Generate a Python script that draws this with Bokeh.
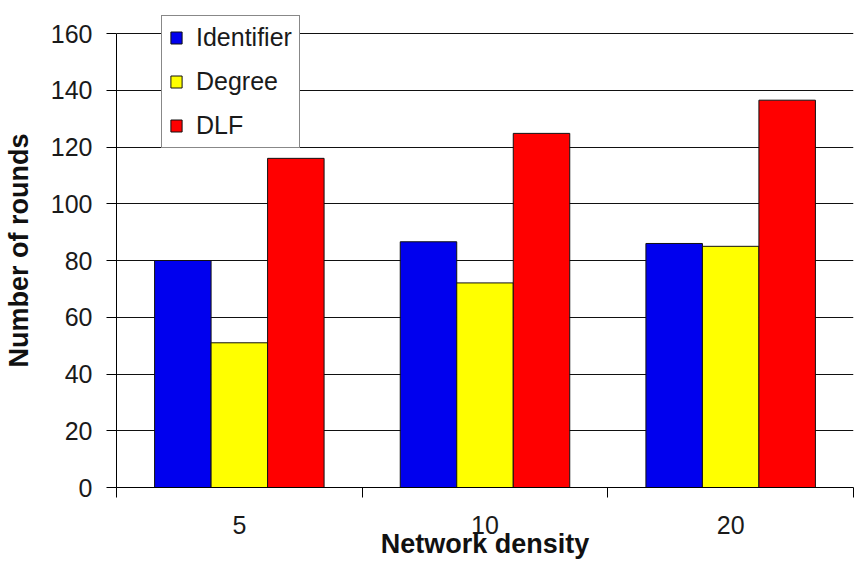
from bokeh.plotting import figure
from bokeh.models import ColumnDataSource, FixedTicker, Legend, LegendItem, Range1d
from bokeh.transform import dodge
from bokeh.embed import file_html
from bokeh.resources import INLINE

categories = ["5", "10", "20"]
identifier = [80, 86.6, 86]
degree = [51, 72.1, 85]
dlf = [116, 124.8, 136.5]
y_ticks = [0, 20, 40, 60, 80, 100, 120, 140, 160]

xpos = [i + 0.5 for i in range(len(categories))]
src = ColumnDataSource(dict(x=xpos, identifier=identifier, degree=degree, dlf=dlf))

p = figure(width=854, height=565, output_backend="svg", toolbar_location=None,
           x_range=Range1d(0, len(categories)), y_range=Range1d(0, 167.05),
           min_border_left=115, min_border_right=1, min_border_top=13, min_border_bottom=78)
p.outline_line_color = None
p.background_fill_color = "white"
p.border_fill_color = "white"

bw = 0.23
r1 = p.vbar(x=dodge("x", -bw, range=p.x_range), top="identifier", width=bw, source=src,
            fill_color="#0000EE", line_color="#111111", line_width=1)
r2 = p.vbar(x=dodge("x", 0, range=p.x_range), top="degree", width=bw, source=src,
            fill_color="#FFFF00", line_color="#111111", line_width=1)
r3 = p.vbar(x=dodge("x", bw, range=p.x_range), top="dlf", width=bw, source=src,
            fill_color="#FF0000", line_color="#111111", line_width=1)

# x axis
p.xaxis.ticker = FixedTicker(ticks=xpos, minor_ticks=list(range(len(categories) + 1)))
p.xaxis.major_label_overrides = {x: c for x, c in zip(xpos, categories)}
p.xaxis.major_tick_line_color = None
p.xaxis.major_tick_out = 0
p.xaxis.major_tick_in = 0
p.xaxis.minor_tick_line_color = "black"
p.xaxis.minor_tick_out = 10
p.xaxis.minor_tick_in = 0
p.xaxis.major_label_standoff = 18
p.xaxis.axis_label = "Network density"
p.xaxis.axis_label_standoff = -8
p.xaxis.axis_line_color = "black"

# y axis
p.yaxis.ticker = FixedTicker(ticks=y_ticks)
p.yaxis.bounds = (0, 160)
p.yaxis.major_tick_out = 10
p.yaxis.major_tick_in = 0
p.yaxis.minor_tick_line_color = None
p.yaxis.major_label_standoff = 14
p.yaxis.axis_label = "Number of rounds"
p.yaxis.axis_label_standoff = 14
p.yaxis.axis_line_color = "black"

for ax in (p.xaxis, p.yaxis):
    ax.major_label_text_font = "Liberation Sans"
    ax.major_label_text_font_size = "25px"
    ax.major_label_text_color = "#1a1a1a"
    ax.axis_label_text_font = "Liberation Sans"
    ax.axis_label_text_font_size = "27px"
    ax.axis_label_text_font_style = "bold"
    ax.axis_label_text_color = "#111111"

p.xgrid.grid_line_color = None
p.ygrid.ticker = FixedTicker(ticks=y_ticks)
p.ygrid.grid_line_color = "#111111"
p.ygrid.grid_line_width = 1

legend = Legend(items=[LegendItem(label="Identifier", renderers=[r1]),
                       LegendItem(label="Degree", renderers=[r2]),
                       LegendItem(label="DLF", renderers=[r3])],
                location=(45, 339))
legend.label_text_font = "Liberation Sans"
legend.label_text_font_size = "25px"
legend.label_text_color = "#1a1a1a"
legend.glyph_width = 14
legend.glyph_height = 15
legend.label_standoff = 13
legend.spacing = 15
legend.padding = 7
legend.margin = 0
legend.border_line_color = "#111111"
legend.border_line_width = 1
legend.background_fill_color = "white"
legend.background_fill_alpha = 1
p.add_layout(legend, "center")

open("out.html", "w").write(file_html(p, INLINE))
